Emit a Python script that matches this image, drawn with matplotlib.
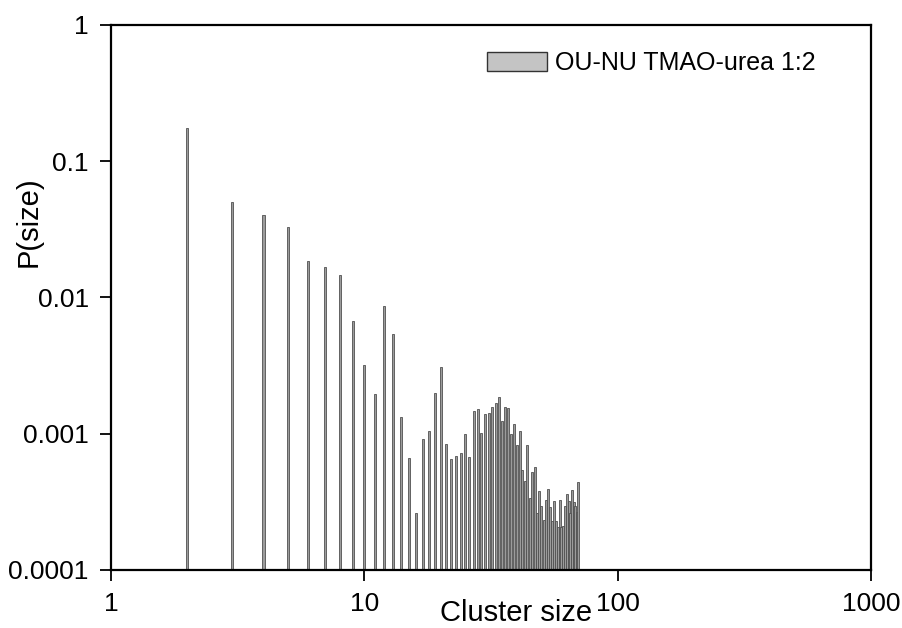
import matplotlib
matplotlib.use("Agg")
import matplotlib.pyplot as plt
from matplotlib.ticker import FixedLocator, FixedFormatter, NullLocator
import numpy as np

plt.rcParams['font.family'] = ['Liberation Sans', 'DejaVu Sans']

# cluster size distribution
sizes = list(range(2, 71))
probs = [
    0.175, 0.050, 0.040, 0.033, 0.0185, 0.0165, 0.0145, 0.0066, 0.0031,   # 2-10
    0.00185, 0.0085, 0.0053, 0.00122, 0.00056, 0.000163, 0.00082, 0.00095,  # 11-18
    0.00189, 0.00297, 0.00074, 0.00055, 0.00059, 0.00062, 0.00090, 0.00057,  # 19-26
    0.00136, 0.00143, 0.00091, 0.00129, 0.00132, 0.00147, 0.00158, 0.00175,  # 27-34
    0.00115, 0.00147, 0.00144, 0.00089, 0.00107, 0.00072, 0.00095, 0.00044,  # 35-42
    0.00035, 0.00072, 0.00024, 0.00042, 0.00047, 0.00016, 0.00028, 0.000195,  # 43-50
    0.000131, 0.000227, 0.00029, 0.000191, 0.000127, 0.000223, 0.000129,      # 51-57
    0.000107, 0.000227, 0.000105, 0.00011, 0.000197, 0.000264, 0.00022,       # 58-64
    0.000164, 0.000288, 0.000215, 0.000197, 0.000167, 0.000343,               # 65-70
]
series_label = 'OU-NU TMAO-urea 1:2'

x_ticks = [1, 10, 100, 1000]
x_ticklabels = ['1', '10', '100', '1000']
y_ticks = [0.0001, 0.001, 0.01, 0.1, 1]
y_ticklabels = ['0.0001', '0.001', '0.01', '0.1', '1']

fig = plt.figure(figsize=(9.03, 6.28), dpi=100)
ax = fig.add_axes([0.1229, 0.0924, 0.8417, 0.8678])

# constant bar width in log space (~2 px)
half = 0.004
sizes_arr = np.asarray(sizes, dtype=float)
left = sizes_arr * 10 ** (-half)
width = sizes_arr * (10 ** half - 10 ** (-half))
ax.bar(left, probs, width=width, bottom=1e-4, align='edge',
       facecolor='#9c9c9c', edgecolor='#505050', linewidth=0.6,
       label=series_label)

ax.set_xscale('log')
ax.set_yscale('log')
ax.set_xlim(1, 1000)
ax.set_ylim(1e-4, 1)

ax.xaxis.set_major_locator(FixedLocator(x_ticks))
ax.xaxis.set_major_formatter(FixedFormatter(x_ticklabels))
ax.xaxis.set_minor_locator(NullLocator())
ax.yaxis.set_major_locator(FixedLocator(y_ticks))
ax.yaxis.set_major_formatter(FixedFormatter(y_ticklabels))
ax.yaxis.set_minor_locator(NullLocator())

ax.tick_params(axis='both', which='major', direction='out', length=8,
               width=1.3, labelsize=19, pad=8, colors='black',
               top=False, right=False)
for sp in ax.spines.values():
    sp.set_linewidth(1.6)
    sp.set_color('black')

ax.set_xlabel('Cluster size', fontsize=21, va='center', color='black')
ax.xaxis.set_label_coords(0.533, -0.079)
ax.set_ylabel('P(size)', fontsize=21, va='center', color='black')
ax.yaxis.set_label_coords(-0.108, 0.639)

leg = ax.legend(loc='upper right', bbox_to_anchor=(0.94, 0.97), frameon=False,
                fontsize=18, handlelength=2.4, handleheight=0.75,
                handletextpad=0.3, borderaxespad=0)
for h in leg.legend_handles:
    h.set_linewidth(1.0)
    h.set_edgecolor('#333333')
    h.set_facecolor('#c4c4c4')

fig.savefig('out.png', dpi=100)
